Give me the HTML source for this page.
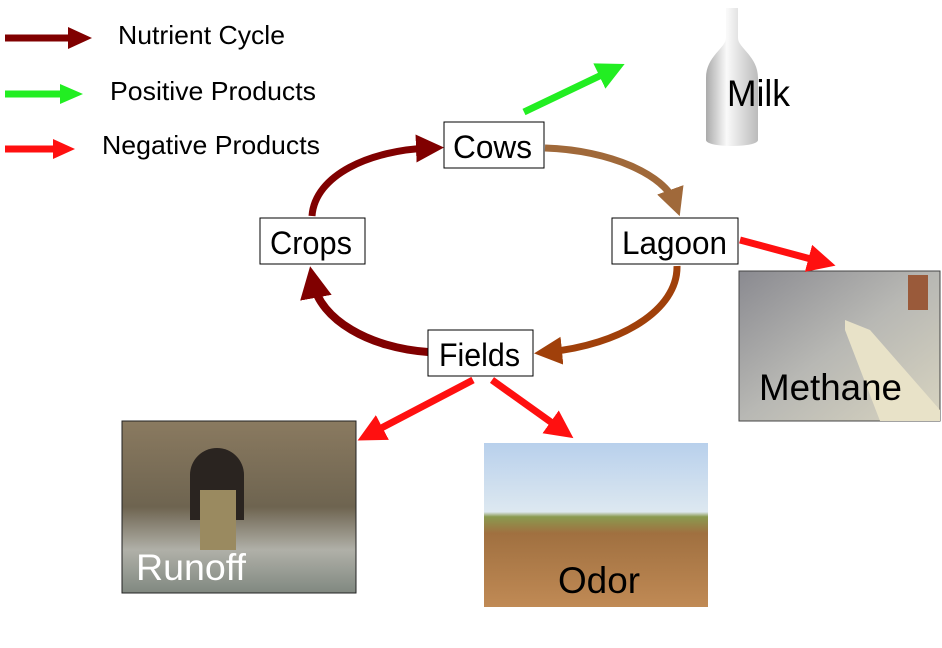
<!DOCTYPE html>
<html><head><style>
body{margin:0;background:#fff;width:942px;height:643px;overflow:hidden;font-family:"Liberation Sans",sans-serif;}
</style></head><body>
<svg width="942" height="643" viewBox="0 0 942 643" xmlns="http://www.w3.org/2000/svg" font-family="Liberation Sans, sans-serif">
<defs>
<marker id="mdr" markerWidth="4" markerHeight="4" refX="2" refY="2" orient="auto"><path d="M0,0L4,2L0,4z" fill="#800000"/></marker>
<marker id="mbr" markerWidth="4" markerHeight="4" refX="2" refY="2" orient="auto"><path d="M0,0L4,2L0,4z" fill="#a0693a"/></marker>
<marker id="mor" markerWidth="4" markerHeight="4" refX="2" refY="2" orient="auto"><path d="M0,0L4,2L0,4z" fill="#a0400a"/></marker>
<marker id="mr" markerWidth="4" markerHeight="4" refX="2" refY="2" orient="auto"><path d="M0,0L4,2L0,4z" fill="#ff1010"/></marker>
<marker id="mg" markerWidth="4" markerHeight="4" refX="2" refY="2" orient="auto"><path d="M0,0L4,2L0,4z" fill="#22ee22"/></marker>
<linearGradient id="meth" x1="0" y1="0" x2="1" y2="1"><stop offset="0" stop-color="#8a8a90"/><stop offset="0.5" stop-color="#b8b8b4"/><stop offset="1" stop-color="#d8d4c0"/></linearGradient>
<linearGradient id="odor" x1="0" y1="0" x2="0" y2="1"><stop offset="0" stop-color="#b8d0ec"/><stop offset="0.42" stop-color="#dde8f0"/><stop offset="0.45" stop-color="#8a9a50"/><stop offset="0.55" stop-color="#a07040"/><stop offset="1" stop-color="#c08a55"/></linearGradient>
<linearGradient id="run" x1="0" y1="0" x2="0" y2="1"><stop offset="0" stop-color="#8a7a60"/><stop offset="0.5" stop-color="#6e6450"/><stop offset="0.75" stop-color="#b0b0a8"/><stop offset="1" stop-color="#808880"/></linearGradient>
<linearGradient id="milk" x1="0" y1="0" x2="1" y2="0"><stop offset="0" stop-color="#aaa"/><stop offset="0.4" stop-color="#fafafa"/><stop offset="1" stop-color="#bbb"/></linearGradient>
</defs>
<!-- legend -->
<line x1="5" y1="38" x2="70" y2="38" stroke="#800000" stroke-width="7"/><path d="M68,27L92,38L68,49z" fill="#800000"/>
<line x1="5" y1="94" x2="62" y2="94" stroke="#22ee22" stroke-width="7"/><path d="M60,84L83,94L60,104z" fill="#22ee22"/>
<line x1="5" y1="149" x2="55" y2="149" stroke="#ff1010" stroke-width="7"/><path d="M53,139L75,149L53,159z" fill="#ff1010"/>
<text x="118" y="44" font-size="26" textLength="167" lengthAdjust="spacingAndGlyphs">Nutrient Cycle</text>
<text x="110" y="100" font-size="26" textLength="206" lengthAdjust="spacingAndGlyphs">Positive Products</text>
<text x="102" y="154" font-size="26" textLength="218" lengthAdjust="spacingAndGlyphs">Negative Products</text>
<!-- milk -->
<path d="M726,8h12v30c0,10 20,18 20,40v62c0,8 -52,8 -52,0v-62c0,-22 20,-30 20,-40z" fill="url(#milk)"/>
<text x="727" y="106" font-size="37" textLength="63" lengthAdjust="spacingAndGlyphs">Milk</text>
<!-- images -->
<rect x="739" y="271" width="201" height="150" fill="url(#meth)" stroke="#444"/>
<path d="M845,320 L870,330 L940,410 L940,421 L880,421 L845,330z" fill="#e8e2c8"/>
<rect x="908" y="275" width="20" height="35" fill="#9a5a3a"/>
<text x="759" y="400" font-size="37" textLength="143" lengthAdjust="spacingAndGlyphs">Methane</text>
<rect x="122" y="421" width="234" height="172" fill="url(#run)" stroke="#222"/>
<path d="M190,520v-45a27,27 0 0 1 54,0v45z" fill="#2a2420"/>
<rect x="200" y="490" width="36" height="60" fill="#9a8a60"/>
<text x="136" y="580" font-size="37" fill="#fff" textLength="110" lengthAdjust="spacingAndGlyphs">Runoff</text>
<rect x="484" y="443" width="224" height="164" fill="url(#odor)"/>
<text x="558" y="593" font-size="37" textLength="82" lengthAdjust="spacingAndGlyphs">Odor</text>
<!-- cycle arcs -->
<path d="M312,216 C315,175 370,150 430,148" fill="none" stroke="#800000" stroke-width="7" marker-end="url(#mdr)"/>
<path d="M545,148 C610,150 665,175 675,203" fill="none" stroke="#a0693a" stroke-width="7" marker-end="url(#mbr)"/>
<path d="M677,266 C678,310 620,345 548,352" fill="none" stroke="#a0400a" stroke-width="7" marker-end="url(#mor)"/>
<path d="M428,352 C370,348 320,320 313,282" fill="none" stroke="#800000" stroke-width="8" marker-end="url(#mdr)"/>
<!-- products -->
<path d="M524,112 L612,70" stroke="#22ee22" stroke-width="7" marker-end="url(#mg)"/>
<path d="M740,240 L822,262" stroke="#ff1010" stroke-width="7" marker-end="url(#mr)"/>
<path d="M473,380 L370,434" stroke="#ff1010" stroke-width="7" marker-end="url(#mr)"/>
<path d="M492,380 L562,430" stroke="#ff1010" stroke-width="7" marker-end="url(#mr)"/>
<!-- boxes -->
<g fill="#fff" stroke="#000" stroke-width="1">
<rect x="444" y="122" width="100" height="46"/>
<rect x="260" y="218" width="105" height="46"/>
<rect x="612" y="218" width="126" height="46"/>
<rect x="428" y="330" width="105" height="46"/>
</g>
<g font-size="32">
<text x="453" y="158" textLength="79" lengthAdjust="spacingAndGlyphs">Cows</text>
<text x="270" y="254" textLength="82" lengthAdjust="spacingAndGlyphs">Crops</text>
<text x="622" y="254" textLength="105" lengthAdjust="spacingAndGlyphs">Lagoon</text>
<text x="439" y="366" textLength="81" lengthAdjust="spacingAndGlyphs">Fields</text>
</g>
</svg>
</body></html>
